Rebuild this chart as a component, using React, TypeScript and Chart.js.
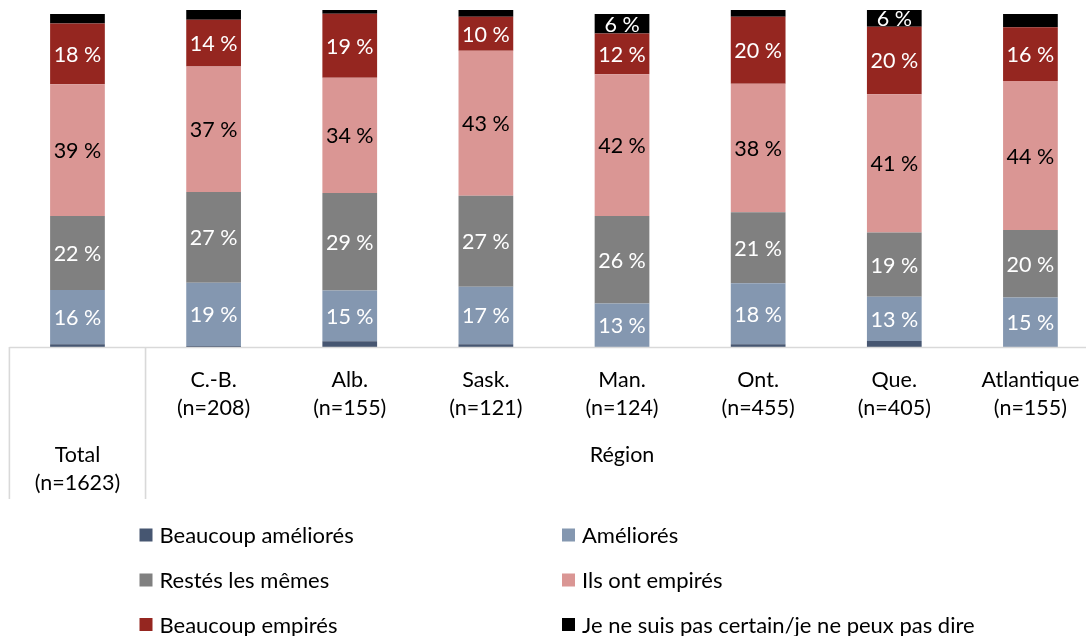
import React, { useEffect, useRef } from "react";
import { Chart, registerables } from "chart.js";

Chart.register(...registerables);

const categories = ["Total", "C.-B.", "Alb.", "Sask.", "Man.", "Ont.", "Que.", "Atlantique"];
const sampleSizes = ["(n=1623)", "(n=208)", "(n=155)", "(n=121)", "(n=124)", "(n=455)", "(n=405)", "(n=155)"];
const groupLabel = "Région";

const seriesNames = [
  "Beaucoup améliorés",
  "Améliorés",
  "Restés les mêmes",
  "Ils ont empirés",
  "Beaucoup empirés",
  "Je ne suis pas certain/je ne peux pas dire",
];

const beaucoupAmeliores = [0.8, 0.3, 1.7, 0.8, 0, 0.8, 1.8, 0];
const ameliores = [16.1, 18.8, 15.1, 17.1, 12.9, 18.1, 13.1, 14.7];
const restes = [22.0, 26.9, 28.9, 27.0, 26.0, 21.1, 19.1, 20.0];
const empires = [39.1, 37.2, 34.2, 43.0, 42.0, 38.1, 41.0, 44.2];
const beaucoupEmpires = [18.0, 13.9, 19.0, 10.1, 12.1, 19.9, 20.0, 16.0];
const nsp = [2.8, 3.0, 1.2, 2.1, 5.8, 2.0, 5.6, 3.9];

const colors = ["#465671", "#8497B0", "#808080", "#DA9694", "#952620", "#000000"];
const labelColors = ["#ffffff", "#ffffff", "#ffffff", "#000000", "#ffffff", "#ffffff"];

const FONT = "Lato, 'Open Sans', sans-serif";

export default function App() {
  const ref = useRef<HTMLCanvasElement | null>(null);

  useEffect(() => {
    const canvas = ref.current;
    if (!canvas) return;
    const allSeries = [beaucoupAmeliores, ameliores, restes, empires, beaucoupEmpires, nsp];

    const labelsPlugin = {
      id: "customLabels",
      afterDatasetsDraw(chart: any) {
        const ctx = chart.ctx;
        const area = chart.chartArea;
        ctx.save();
        ctx.font = `21.5px ${FONT}`;
        ctx.textAlign = "center";
        ctx.textBaseline = "middle";
        chart.data.datasets.forEach((ds: any, di: number) => {
          const meta = chart.getDatasetMeta(di);
          meta.data.forEach((el: any, i: number) => {
            const v = ds.data[i];
            const r = Math.round(v);
            if (r < 5) return;
            const top = Math.max(el.y, area.top);
            const y = (top + el.base) / 2;
            ctx.fillStyle = labelColors[di];
            ctx.fillText(`${r} %`, el.x, y + 1);
          });
        });
        ctx.restore();
      },
      afterDraw(chart: any) {
        const ctx = chart.ctx;
        const area = chart.chartArea;
        const xs = chart.scales.x;
        ctx.save();
        // axis line and separators
        ctx.strokeStyle = "#d9d9d9";
        ctx.lineWidth = 1.6;
        ctx.beginPath();
        ctx.moveTo(area.left, area.bottom + 0.5);
        ctx.lineTo(chart.width, area.bottom + 0.5);
        const sep = (xs.getPixelForValue(0) + xs.getPixelForValue(1)) / 2;
        ctx.moveTo(area.left, area.bottom);
        ctx.lineTo(area.left, 499);
        ctx.moveTo(sep, area.bottom);
        ctx.lineTo(sep, 499);
        ctx.stroke();

        ctx.fillStyle = "#000000";
        ctx.font = `21.5px ${FONT}`;
        ctx.textAlign = "center";
        ctx.textBaseline = "middle";
        categories.forEach((c, i) => {
          const x = xs.getPixelForValue(i);
          const y0 = i === 0 ? 455 : 380;
          ctx.fillText(c, x, y0);
          ctx.fillText(sampleSizes[i], x, y0 + 28.5);
        });
        const gx = (xs.getPixelForValue(1) + xs.getPixelForValue(categories.length - 1)) / 2;
        ctx.fillText(groupLabel, gx, 455);

        // legend
        const colX = [139.5, 562];
        const rowY = [535, 580, 624.5];
        ctx.textAlign = "left";
        ctx.font = `22px ${FONT}`;
        chart.data.datasets.forEach((ds: any, di: number) => {
          const col = di % 2;
          const row = Math.floor(di / 2);
          const x = colX[col];
          const y = rowY[row];
          ctx.fillStyle = ds.backgroundColor;
          ctx.fillRect(x, y - 6.5, 13, 13);
          ctx.fillStyle = "#000000";
          ctx.fillText(ds.label, x + 20, y + 1);
        });
        ctx.restore();
      },
    };

    const chart = new Chart(canvas, {
      type: "bar",
      data: {
        labels: categories,
        datasets: allSeries.map((d, i) => ({
          label: seriesNames[i],
          data: d,
          backgroundColor: colors[i],
          borderWidth: 0,
          barPercentage: 0.402,
          categoryPercentage: 1,
          clip: 0,
        })),
      },
      options: {
        responsive: false,
        animation: false,
        devicePixelRatio: 1,
        layout: { padding: { left: 9.4, right: 1.5, top: 10, bottom: 289 } },
        plugins: { legend: { display: false }, tooltip: { enabled: false } },
        scales: {
          x: { stacked: true, display: false },
          y: { stacked: true, display: false, min: 0, max: 100 },
        },
      },
      plugins: [labelsPlugin],
    } as any);

    return () => chart.destroy();
  }, []);

  return (
    <div style={{ position: "absolute", left: 0, top: 0, width: 1086, height: 636, overflow: "hidden", background: "#fff" }}>
      <canvas ref={ref} width={1100} height={636} style={{ display: "block", width: 1100, height: 636 }} />
    </div>
  );
}
